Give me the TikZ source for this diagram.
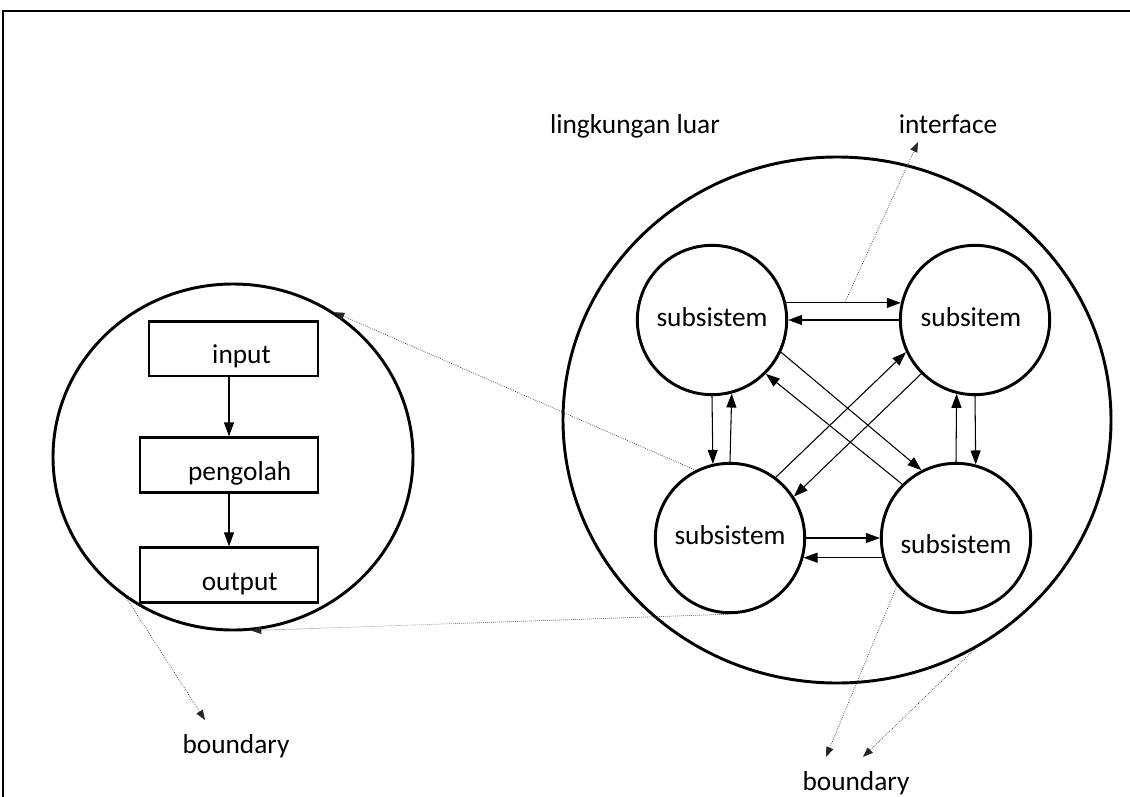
\documentclass[tikz,border=0pt]{standalone}
\usepackage{fontspec}
\setmainfont{Carlito}
\usetikzlibrary{arrows.meta,shapes.geometric}
\begin{document}
\begin{tikzpicture}[x=0.75pt,y=-0.75pt,
    font=\fontsize{20.5}{24}\selectfont,
    ring/.style={draw,ellipse,line width=2.2pt,inner sep=0pt},
    sub/.style={draw,circle,line width=2.2pt,inner sep=0pt,minimum size=112pt,text height=14pt,text depth=4pt},
    box/.style={draw,rectangle,line width=2pt,inner sep=0pt,minimum height=41pt,text height=14pt,text depth=4pt},
    flow/.style={line width=0.8pt,-{Triangle[length=10.5pt,width=7.5pt]}},
    hint/.style={line width=0.5pt,densely dotted,black!85,-{Triangle[length=7.5pt,width=5.5pt]}}]
  \useasboundingbox (0,0) rectangle (1130,796);
  % frame
  \draw[line width=2pt] (3,800) -- (3,11) -- (1135,11);
  % system with input, pengolah and output
  \node[ring,minimum width=270pt,minimum height=259.5pt] (sys) at (233,457) {};
  \node[box,minimum width=126.75pt] (input) at (233.5,348.5) {\raisebox{-6.5pt}{\hspace*{12pt}input}};
  \node[box,minimum width=133.5pt] (pengolah) at (229,465) {\raisebox{-6.5pt}{\hspace*{16pt}pengolah}};
  \node[box,minimum width=133.5pt] (output) at (229,575) {\raisebox{-6.5pt}{\hspace*{16pt}output}};
  \draw[flow] (input.south -| pengolah.north) -- (pengolah.north);
  \draw[flow] (pengolah.south) -- (output.north);
  % environment with subsystems
  \node[ring,minimum width=411pt,minimum height=394.5pt] (env) at (837,420) {};
  \node[sub] (tl) at (712,320) {subsistem};
  \node[sub] (tr) at (975,320) {\hspace*{-6pt}subsitem};
  \node[sub] (bl) at (730,538) {subsistem};
  \node[sub] (br) at (956,538) {\raisebox{-6.5pt}{subsistem}};
  \draw[flow] (tl.13) -- (tr.167);
  \draw[flow] (tr.west) -- (tl.east);
  \draw[flow] (tl.south) -- (bl.103);
  \draw[flow] (bl.north) -- (tl.-75);
  \draw[flow] (tr.south) -- (br.75);
  \draw[flow] (br.north) -- (tr.-104);
  \draw[flow] (bl.east) -- (br.west);
  \draw[flow] (br.195) -- (bl.-15);
  \draw[flow] (tl.-25) -- (br.117);
  \draw[flow] (br.135) -- (tl.-45);
  \draw[flow] (bl.53) -- (tr.205);
  \draw[flow] (tr.225) -- (bl.33);
  % labels
  \node[anchor=base] (luar) at (635,133) {lingkungan luar};
  \node[anchor=base] (interface) at (948,133) {interface};
  \node[anchor=base] (bdleft) at (236,753) {boundary};
  \node[anchor=base] (bdright) at (856,790) {boundary};
  \coordinate (ifc) at (845,302);
  \coordinate (ifctip) at (918,142);
  \coordinate (bltip) at (205,720);
  \coordinate (brtip1) at (826,757);
  \coordinate (brtip2) at (863,757);
  \draw[hint] (ifc) -- (ifctip);
  \draw[hint] (bl.117) -- (sys.55);
  \draw[hint] (bl.south) -- (sys.-84);
  \draw[hint] (sys.233) -- (bltip);
  \draw[hint] (br.219) -- (brtip1);
  \draw[hint] (env.-59) -- (brtip2);
\end{tikzpicture}
\end{document}
